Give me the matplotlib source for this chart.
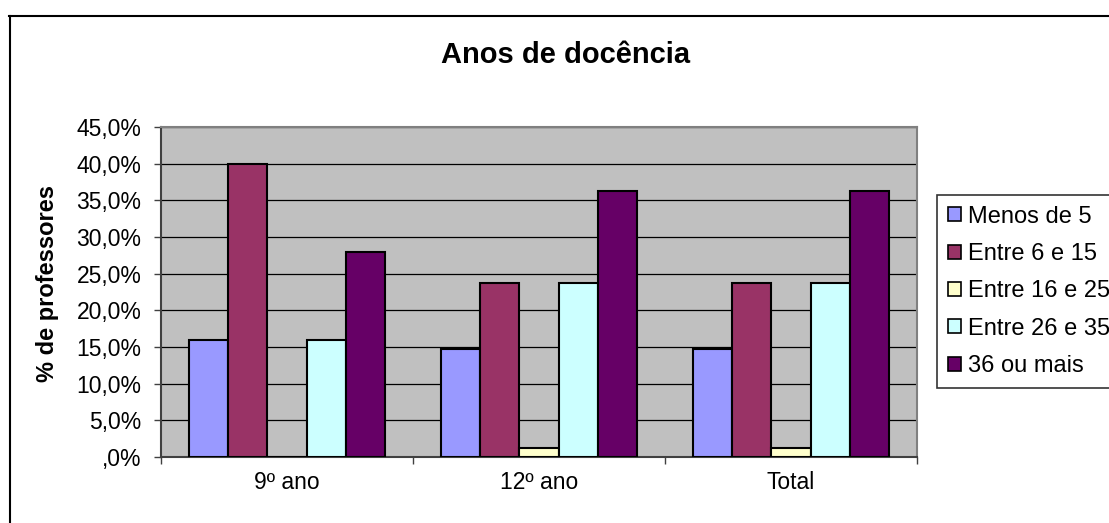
import numpy as np
import matplotlib
matplotlib.use('Agg')
import matplotlib.pyplot as plt
from matplotlib.lines import Line2D

# Data
groups = ['9º ano', '12º ano', 'Total']
series = ['Menos de 5', 'Entre 6 e 15', 'Entre 16 e 25', 'Entre 26 e 35', '36 ou mais']
menos_5 = [16.0, 14.7, 14.7]
entre_6_15 = [40.0, 23.7, 23.7]
entre_16_25 = [0.0, 1.2, 1.2]
entre_26_35 = [16.0, 23.7, 23.7]
mais_36 = [28.0, 36.3, 36.3]
values = [menos_5, entre_6_15, entre_16_25, entre_26_35, mais_36]
colors = ['#9999FF', '#993366', '#FFFFCC', '#CCFFFF', '#660066']
yticks = np.arange(0, 50, 5)

plt.rcParams['font.family'] = ['Liberation Sans', 'DejaVu Sans']

W, H = 1109, 523
fig = plt.figure(figsize=(W / 100, H / 100), dpi=100)

# plot area in pixels: left 161, right 917, top 127, bottom 457
ax = fig.add_axes([161 / W, 1 - 457 / H, (917 - 161) / W, (457 - 127) / H])
ax.set_facecolor('#C0C0C0')

x = np.arange(len(groups))
w = 0.155
for i, (name, vals, col) in enumerate(zip(series, values, colors)):
    ax.bar(x + (i - 2) * w, vals, w, color=col, edgecolor='black',
           linewidth=1.5, label=name, zorder=3)

ax.set_xlim(-0.5, 2.5)
ax.set_ylim(0, 45)
ax.set_yticks(yticks)
labels = []
for v in yticks:
    s = f'{v:.1f}'.replace('.', ',')
    if s.startswith('0,'):
        s = s[1:]
    labels.append(s + '%')
ax.set_yticklabels(labels, fontsize=16.5)
ax.yaxis.grid(True, color='black', linewidth=0.9, zorder=1)
ax.set_axisbelow(True)

ax.set_xticks(x)
ax.set_xticklabels(groups, fontsize=16.5)
ax.set_xticks([-0.5, 0.5, 1.5, 2.5], minor=True)
ax.tick_params(axis='x', which='major', length=0, pad=10)
ax.tick_params(axis='x', which='minor', length=5, width=1, color='#404040')
ax.tick_params(axis='y', length=5, width=1, color='#404040', pad=9)

for side in ['left', 'bottom']:
    ax.spines[side].set_color('#404040')
    ax.spines[side].set_linewidth(1.5)
for side in ['top', 'right']:
    ax.spines[side].set_color('#808080')
    ax.spines[side].set_linewidth(1.5)

fig.text(566 / W, 1 - 63 / H, 'Anos de docência', ha='center', va='baseline',
         fontsize=21, fontweight='bold')
fig.text(48 / W, 1 - 284 / H, '% de professores', rotation=90, ha='center',
         va='center', fontsize=17, fontweight='bold')

leg = fig.legend(loc='upper left', bbox_to_anchor=(937 / W, 1 - 195 / H),
                 fontsize=17, frameon=True, fancybox=False, borderaxespad=0,
                 handlelength=0.55, handleheight=0.55, handletextpad=0.3,
                 labelspacing=0.65, borderpad=0.45)
leg.get_frame().set_edgecolor('black')
leg.get_frame().set_linewidth(1.2)
for h in leg.legend_handles:
    h.set_linewidth(1.2)

# outer chart frame (runs off right and bottom edges)
fig.add_artist(Line2D([9.5 / W, 9.5 / W], [0, 1 - 16 / H], color='black', linewidth=1.5))
fig.add_artist(Line2D([9 / W, 1], [1 - 16.5 / H, 1 - 16.5 / H], color='black', linewidth=1.5))

fig.savefig('out.png', dpi=100)
